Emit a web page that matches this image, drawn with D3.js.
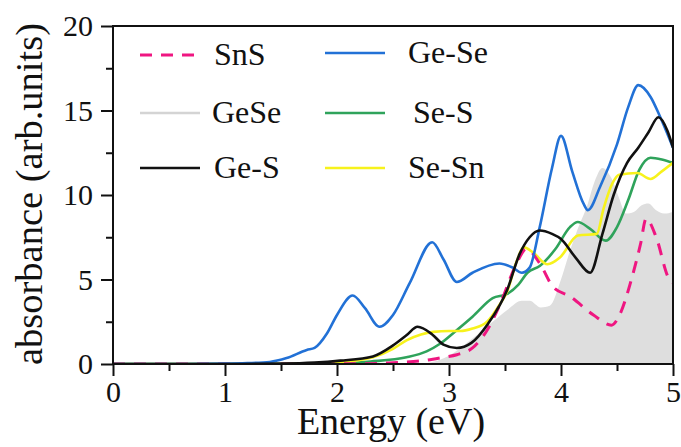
<!DOCTYPE html>
<html>
<head>
<meta charset="utf-8">
<script src="https://cdn.jsdelivr.net/npm/d3@7"></script>
<style>
  body { margin: 0; background: #fff; }
  text { font-family: "Liberation Serif", "Times New Roman", serif; fill: #111; }
</style>
</head>
<body>
<script>
// values (energy in eV, absorbance in arb. units)
const sns_x = [0, 1.5, 2.3, 2.5, 2.77, 2.95, 3.07, 3.21, 3.34, 3.46, 3.6, 3.69, 3.81, 3.93, 4.08, 4.29, 4.45, 4.53, 4.62, 4.71, 4.76, 4.85, 4.96, 5.0]
const sns_y = [0, 0, 0.02, 0.08, 0.2, 0.4, 0.55, 0.95, 2.0, 3.6, 5.9, 6.8, 5.95, 4.55, 4.0, 2.9, 2.3, 3.0, 4.8, 7.1, 8.6, 7.5, 5.1, 4.8]

const gese_x = [0, 2.7, 2.8, 2.92, 3.05, 3.19, 3.39, 3.52, 3.65, 3.72, 3.82, 3.9, 4.0, 4.08, 4.15, 4.23, 4.3, 4.37, 4.45, 4.52, 4.58, 4.65, 4.72, 4.78, 4.85, 4.92, 5.0]
const gese_y = [0, 0, 0.05, 0.25, 0.7, 1.4, 2.5, 3.2, 3.75, 3.75, 3.35, 3.45, 5.0, 6.7, 8.0, 9.3, 10.8, 11.6, 11.0, 9.8, 8.9, 9.0, 9.4, 9.5, 9.1, 8.9, 9.0]

const gs_x = [0, 1.0, 1.5, 1.8, 2.03, 2.32, 2.5, 2.62, 2.72, 2.85, 2.95, 3.07, 3.2, 3.35, 3.52, 3.63, 3.72, 3.81, 3.92, 4.0, 4.13, 4.26, 4.37, 4.47, 4.59, 4.69, 4.78, 4.87, 4.95, 5.0]
const gs_y = [0, 0, 0.02, 0.08, 0.2, 0.45, 1.1, 1.7, 2.2, 1.75, 1.15, 0.95, 1.25, 2.4, 4.4, 6.5, 7.5, 7.9, 7.7, 7.4, 6.3, 5.4, 7.7, 10.0, 11.9, 12.8, 13.7, 14.6, 13.8, 12.8]

const gse_x = [0, 0.5, 1.0, 1.2, 1.4, 1.55, 1.73, 1.8, 1.91, 2.0, 2.14, 2.25, 2.38, 2.5, 2.65, 2.85, 2.95, 3.07, 3.21, 3.45, 3.57, 3.65, 3.72, 3.81, 3.92, 4.0, 4.1, 4.2, 4.24, 4.35, 4.5, 4.6, 4.69, 4.8, 4.88, 5.0]
const gse_y = [0, 0, 0.02, 0.05, 0.12, 0.35, 0.83, 0.95, 1.8, 2.9, 4.05, 3.3, 2.2, 2.9, 4.8, 7.2, 6.2, 4.85, 5.4, 5.95, 5.7, 5.4, 5.7, 8.1, 11.6, 13.5, 11.4, 9.5, 9.1, 10.5, 13.0, 15.2, 16.5, 15.8, 14.7, 12.8]

const ses_x = [0, 1.5, 2.0, 2.3, 2.62, 2.8, 2.92, 3.05, 3.21, 3.39, 3.52, 3.62, 3.7, 3.81, 3.95, 4.08, 4.15, 4.26, 4.4, 4.5, 4.6, 4.7, 4.8, 4.9, 5.0]
const ses_y = [0, 0, 0.03, 0.15, 0.4, 0.75, 1.2, 1.9, 2.8, 3.9, 4.15, 4.7, 5.4, 5.8, 6.8, 8.1, 8.4, 8.0, 7.3, 8.1, 9.7, 11.5, 12.2, 12.1, 11.9]

const sesn_x = [0, 1.5, 1.9, 2.1, 2.32, 2.5, 2.62, 2.75, 2.86, 3.0, 3.1, 3.21, 3.34, 3.45, 3.52, 3.6, 3.67, 3.75, 3.88, 3.99, 4.15, 4.32, 4.38, 4.46, 4.52, 4.68, 4.8, 4.9, 5.0]
const sesn_y = [0, 0, 0.05, 0.15, 0.4, 0.9, 1.4, 1.75, 1.9, 1.95, 1.95, 2.1, 2.5, 3.5, 4.3, 6.0, 6.9, 6.6, 5.9, 6.3, 7.6, 7.7, 9.2, 10.7, 11.2, 11.3, 10.95, 11.4, 11.9]

const xTicks = [0, 1, 2, 3, 4, 5]
const yTicks = [0, 5, 10, 15, 20]

const W = 681, H = 447
const pLeft = 113, pRight = 673, pTop = 26, pBottom = 364

const svg = d3.select("body").append("svg")
    .attr("width", W)
    .attr("height", H)

const x = d3.scaleLinear().domain([0, 5]).range([pLeft, pRight])
const y = d3.scaleLinear().domain([0, 20]).range([pBottom, pTop])

svg.append("clipPath").attr("id", "plotclip")
  .append("rect")
    .attr("x", pLeft).attr("y", pTop)
    .attr("width", pRight - pLeft).attr("height", pBottom - pTop)

const plot = svg.append("g").attr("clip-path", "url(#plotclip)")

function pts(xs, ys) { return xs.map((v, i) => [v, ys[i]]) }

// GeSe as filled area
const area = d3.area()
    .x(d => x(d[0]))
    .y0(y(0))
    .y1(d => y(d[1]))
    .curve(d3.curveMonotoneX)
plot.append("path")
    .attr("d", area(pts(gese_x, gese_y)))
    .attr("fill", "#dedede")

const line = d3.line()
    .x(d => x(d[0]))
    .y(d => y(d[1]))
    .curve(d3.curveMonotoneX)

const series = [
  {xs: ses_x, ys: ses_y, color: "#2fa35b", dash: null},
  {xs: sesn_x, ys: sesn_y, color: "#f7f21c", dash: null},
  {xs: sns_x, ys: sns_y, color: "#ef1681", dash: "12,9"},
  {xs: gse_x, ys: gse_y, color: "#2271d6", dash: null},
  {xs: gs_x, ys: gs_y, color: "#111111", dash: null}
]
series.forEach(s => {
  plot.append("path")
    .attr("d", line(pts(s.xs, s.ys)))
    .attr("fill", "none")
    .attr("stroke", s.color)
    .attr("stroke-width", s.dash ? 3 : 2.6)
    .attr("stroke-dasharray", s.dash)
})

// axes
const xAxis = d3.axisBottom(x).tickValues(xTicks).tickSize(12).tickPadding(5).tickFormat(d3.format("d"))
const xMinor = d3.axisBottom(x).tickValues([0.5, 1.5, 2.5, 3.5, 4.5]).tickSize(7).tickFormat("")
const yAxis = d3.axisLeft(y).tickValues(yTicks).tickSize(12).tickPadding(8).tickFormat(d3.format("d"))
const yMinor = d3.axisLeft(y).tickValues([2.5, 7.5, 12.5, 17.5]).tickSize(7).tickFormat("")

function styleAxis(g) {
  g.select(".domain").remove()
  g.selectAll("line").attr("stroke", "#111").attr("stroke-width", 2)
  g.selectAll("text")
    .style("font-family", '"Liberation Serif", "Times New Roman", serif')
    .style("font-size", "30px")
    .attr("fill", "#111")
}

svg.append("g").attr("transform", `translate(0,${pBottom})`).call(xAxis).call(styleAxis)
svg.append("g").attr("transform", `translate(0,${pBottom})`).call(xMinor).call(styleAxis)
svg.append("g").attr("transform", `translate(${pLeft},0)`).call(yAxis).call(styleAxis)
svg.append("g").attr("transform", `translate(${pLeft},0)`).call(yMinor).call(styleAxis)

// frame
svg.append("rect")
    .attr("x", pLeft).attr("y", pTop)
    .attr("width", pRight - pLeft).attr("height", pBottom - pTop)
    .attr("fill", "none")
    .attr("stroke", "#111")
    .attr("stroke-width", 2)

// axis titles
svg.append("text")
    .attr("x", 391).attr("y", 434)
    .attr("text-anchor", "middle")
    .style("font-size", "38px")
    .text("Energy (eV)")

svg.append("text")
    .attr("transform", "translate(42,194) rotate(-90)")
    .attr("text-anchor", "middle")
    .style("font-size", "38.5px")
    .text("absorbance (arb.units)")

// legend
const legend = [
  {name: "SnS", color: "#ef1681", dash: "12,9", lx: 140, ly: 55, tx: 214},
  {name: "GeSe", color: "#d4d4d4", dash: null, lx: 140, ly: 113, tx: 212},
  {name: "Ge-S", color: "#111111", dash: null, lx: 140, ly: 168, tx: 214},
  {name: "Ge-Se", color: "#2271d6", dash: null, lx: 325, ly: 53, tx: 408},
  {name: "Se-S", color: "#2fa35b", dash: null, lx: 325, ly: 113, tx: 413},
  {name: "Se-Sn", color: "#f7f21c", dash: null, lx: 325, ly: 168, tx: 408}
]
const lg = svg.append("g")
legend.forEach(d => {
  lg.append("line")
    .attr("x1", d.lx).attr("x2", d.lx + 60)
    .attr("y1", d.ly).attr("y2", d.ly)
    .attr("stroke", d.color)
    .attr("stroke-width", d.dash ? 3 : 2.6)
    .attr("stroke-dasharray", d.dash)
  lg.append("text")
    .attr("x", d.tx).attr("y", d.ly + 10)
    .style("font-size", "32px")
    .text(d.name)
})
</script>
</body>
</html>
